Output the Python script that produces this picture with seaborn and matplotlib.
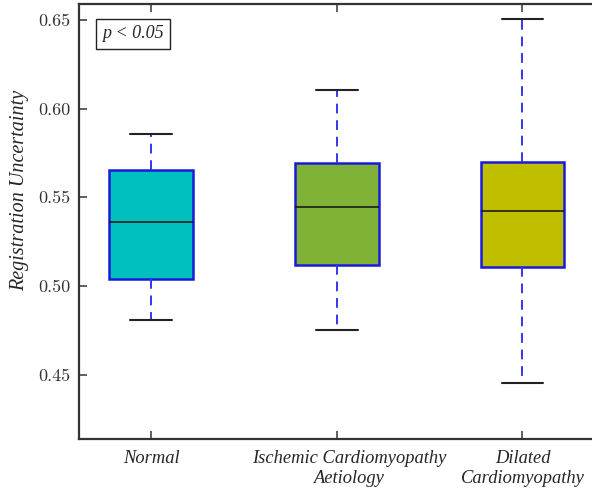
import matplotlib
matplotlib.use("Agg")
import matplotlib.pyplot as plt
import matplotlib.transforms as mtrans
import seaborn as sns
import pandas as pd

# Data: five-number summaries
categories = ["Normal", "Ischemic Cardiomyopathy\nAetiology", "Dilated\nCardiomyopathy"]
mins    = [0.4810, 0.4754, 0.4455]
q1s     = [0.5038, 0.5118, 0.5107]
medians = [0.5361, 0.5446, 0.5423]
q3s     = [0.5652, 0.5695, 0.5701]
maxs    = [0.5857, 0.6107, 0.6506]
box_colors = ["#00BFBF", "#7FB236", "#BFBF00"]
yticks = [0.45, 0.50, 0.55, 0.60, 0.65]
ytick_labels = ["0.45", "0.50", "0.55", "0.60", "0.65"]

rows = []
for c, a, b, m, d, e in zip(categories, mins, q1s, medians, q3s, maxs):
    for v in (a, b, m, d, e):
        rows.append({"group": c, "value": v})
df = pd.DataFrame(rows)

sns.set_style("ticks")
fig = plt.figure(figsize=(5.92, 4.88), dpi=100)
ax = fig.add_axes([0.1334, 0.101, 0.8666 + 0.002, 0.8908])

sns.boxplot(
    data=df, x="group", y="value", hue="group", order=categories,
    hue_order=categories, palette=box_colors, saturation=1, width=0.45,
    whis=(0, 100), legend=False, ax=ax, linewidth=1.5,
    boxprops=dict(edgecolor="#1a1adb", linewidth=1.8),
    whiskerprops=dict(color="#3535ee", linestyle=(0, (5, 3.5)), linewidth=1.4),
    capprops=dict(color="#222222", linewidth=1.5),
    medianprops=dict(color="#111111", linewidth=1.1),
    capwidths=0.225,
)

for p in ax.patches:
    p.set_edgecolor("#1a1adb")
    p.set_linewidth(1.8)

ax.set_xlim(-0.389, 2.381)
ax.set_ylim(0.4139, 0.659)
ax.set_yticks(yticks)
ax.set_yticklabels(ytick_labels, family="cmr10", fontsize=13, color="#333333")
ax.set_xticks(range(len(categories)))
ax.set_xticklabels(categories, family="Liberation Serif", style="italic",
                   fontsize=13.3, linespacing=1.25)
ax.set_xlabel("")
ax.set_ylabel("Registration Uncertainty", family="Liberation Serif",
              style="italic", fontsize=14.5)
ax.yaxis.set_label_coords(-0.0975, 0.572)

ax.tick_params(axis="both", direction="in", length=6, width=1.2,
               color="#444444", top=True, right=False)
ax.tick_params(axis="x", pad=8)
ax.tick_params(axis="y", pad=6)
for s in ["left", "bottom", "top"]:
    ax.spines[s].set_color("#333333")
    ax.spines[s].set_linewidth(1.6)
ax.spines["right"].set_visible(False)

# middle category label sits slightly right of its tick in the reference
lab = ax.get_xticklabels()[1]
lab.set_transform(lab.get_transform() +
                  mtrans.ScaledTranslation(0.12, 0, fig.dpi_scale_trans))

ax.text(0.0454, 0.951, "p < 0.05", transform=ax.transAxes, ha="left", va="top",
        family="Liberation Serif", style="italic", fontsize=13,
        bbox=dict(boxstyle="square,pad=0.35", facecolor="white",
                  edgecolor="#222222", linewidth=1.0))

fig.savefig("out.png", dpi=100)
